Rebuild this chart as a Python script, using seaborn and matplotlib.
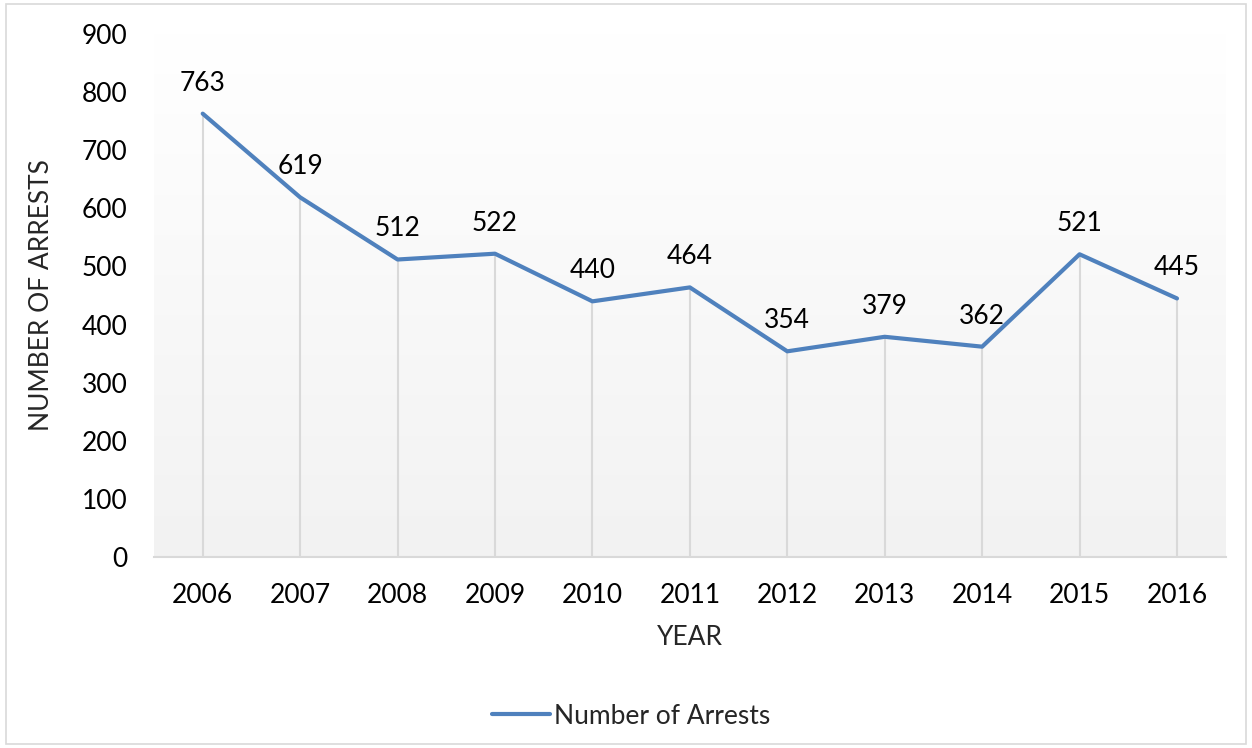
import numpy as np
import pandas as pd
import matplotlib
matplotlib.use("Agg")
import matplotlib.pyplot as plt
import seaborn as sns
from matplotlib.patches import Rectangle

# data
years = [2006, 2007, 2008, 2009, 2010, 2011, 2012, 2013, 2014, 2015, 2016]
arrests = [763, 619, 512, 522, 440, 464, 354, 379, 362, 521, 445]
yticks = [0, 100, 200, 300, 400, 500, 600, 700, 800, 900]

df = pd.DataFrame({"Year": years, "Number of Arrests": arrests})

sns.set_theme(style="white")
plt.rcParams["font.family"] = ["Lato", "DejaVu Sans"]

fig = plt.figure(figsize=(12.52, 7.48), dpi=100)
ax = fig.add_axes([0.123, 0.2553, 0.856, 0.6992])

line_col = "#4f81bd"
grid_col = "#d9d9d9"
fs = 19

# gradient plot background, white at top to light grey at bottom
grad = np.linspace(0, 1, 256).reshape(-1, 1)
ax.imshow(grad, extent=[2005.5, 2016.5, 0, 900], aspect="auto", origin="upper",
          cmap=matplotlib.colors.LinearSegmentedColormap.from_list("bg", ["#ffffff", "#f2f2f2"]),
          zorder=0)

# drop lines
ax.vlines(df["Year"], 0, df["Number of Arrests"], color=grid_col, lw=1.5, zorder=1)

sns.lineplot(data=df, x="Year", y="Number of Arrests", ax=ax, color=line_col,
             lw=3, label="Number of Arrests", zorder=3)

for x, y in zip(years, arrests):
    ax.annotate(str(y), (x, y), xytext=(0, 13), textcoords="offset points",
                ha="center", va="bottom", fontsize=fs, color="black")

ax.set_xlim(2005.5, 2016.5)
ax.set_ylim(0, 900)
ax.set_xticks(years)
ax.set_xticklabels([str(y) for y in years])
ax.set_yticks(yticks)
ax.tick_params(axis="both", length=0, labelsize=fs, colors="black")
ax.tick_params(axis="y", pad=19)
ax.tick_params(axis="x", pad=19)

for s in ["top", "right", "left"]:
    ax.spines[s].set_visible(False)
ax.spines["bottom"].set_color(grid_col)
ax.spines["bottom"].set_linewidth(1.5)

ax.set_xlabel("YEAR", fontsize=fs, labelpad=12)
ax.set_ylabel("NUMBER OF ARRESTS", fontsize=fs, labelpad=20)

ax.legend(loc="upper center", bbox_to_anchor=(0.445, -0.235), frameon=False,
          fontsize=fs, handlelength=2.2, handletextpad=0.15)

fig.patches.append(Rectangle((0.005, 0.005), 0.99, 0.99, transform=fig.transFigure,
                             fill=False, edgecolor=grid_col, lw=1.2))

fig.savefig("out.png", dpi=100)
